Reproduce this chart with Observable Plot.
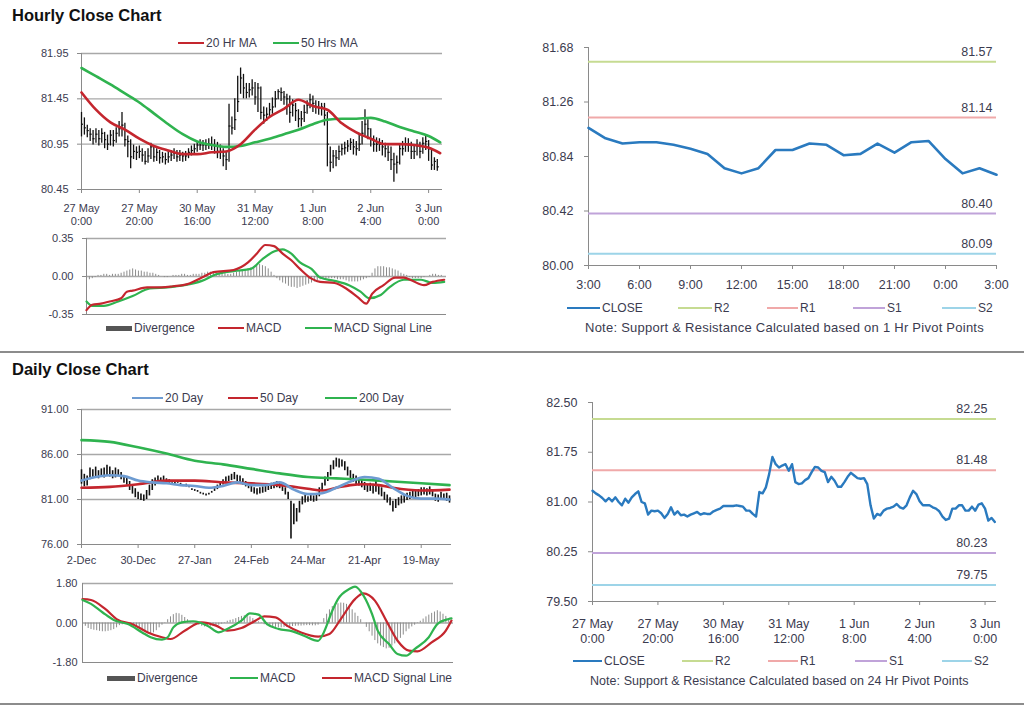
<!DOCTYPE html>
<html><head><meta charset="utf-8">
<script src="https://cdn.jsdelivr.net/npm/d3@7"></script>
<script src="https://cdn.jsdelivr.net/npm/@observablehq/plot@0.6"></script>
<style>
body{margin:0;width:1024px;height:706px;position:relative;background:#fff;font-family:"Liberation Sans",Arial,sans-serif;overflow:hidden}
.abs{position:absolute}
.title{position:absolute;font-weight:bold;font-size:16.5px;line-height:18px;color:#111;white-space:nowrap}
.leg{position:absolute;font-size:12px;color:#3b3b4f;white-space:nowrap;line-height:14px}
.sw{position:absolute}
.sep{position:absolute;left:0;width:1024px;height:2px;background:#8c8c8c}
</style></head><body>
<div class="title" style="left:12px;top:6px">Hourly Close Chart</div>
<div class="title" style="left:12px;top:360px">Daily Close Chart</div>
<div class="sep" style="top:351px"></div>
<div class="sep" style="top:703px"></div>
<script>
// ---------- Hourly (27 May 0:00 – 3 Jun 3:00) ----------
const hXLabels = ["27 May\n0:00","27 May\n20:00","30 May\n16:00","31 May\n12:00","1 Jun\n8:00","2 Jun\n4:00","3 Jun\n0:00"];
const hXTicks = [0,20,40,60,80,100,120];
const hYTicks = [80.45,80.95,81.45,81.95];
const hClose = [81.17,81.13,81.10,81.06,81.01,81.06,81.01,81.07,81.00,80.95,
81.05,80.99,81.07,81.12,81.16,81.00,80.98,80.81,80.87,80.86,
80.87,80.83,80.76,80.82,80.92,80.81,80.86,80.80,80.81,80.78,
80.81,80.83,80.85,80.81,80.83,80.82,80.82,80.86,80.88,80.90,
80.94,80.94,80.94,80.94,80.95,80.94,80.93,80.87,80.87,80.82,
80.78,81.15,81.13,81.22,81.42,81.68,81.57,81.52,81.55,81.57,
81.47,81.57,81.30,81.27,81.28,81.33,81.36,81.45,81.53,81.52,
81.47,81.45,81.30,81.38,81.32,81.23,81.23,81.30,81.38,81.44,
81.40,81.36,81.35,81.36,81.27,80.95,80.75,80.82,80.80,80.87,
80.90,80.91,80.93,80.97,80.92,80.90,80.95,81.07,81.17,81.12,
81.01,80.95,80.95,80.95,80.92,80.90,80.86,80.78,80.73,80.75,
80.90,80.90,80.95,80.95,80.87,80.87,80.93,80.87,80.96,80.98,
80.90,80.72,80.76,80.70];
const hHigh = [81.30,81.24,81.16,81.12,81.10,81.12,81.10,81.12,81.08,81.05,
81.10,81.10,81.13,81.20,81.30,81.18,81.04,81.00,80.94,80.92,
80.93,80.90,80.87,80.90,80.96,80.93,80.90,80.88,80.86,80.85,
80.87,80.88,80.90,80.88,80.88,80.86,80.87,80.90,80.93,80.95,
80.98,81.00,80.99,81.00,81.01,81.03,81.00,80.97,80.94,80.90,
80.86,81.39,81.25,81.45,81.70,81.79,81.72,81.62,81.62,81.66,
81.63,81.62,81.58,81.36,81.35,81.40,81.46,81.53,81.55,81.57,
81.53,81.50,81.48,81.44,81.40,81.33,81.31,81.38,81.43,81.50,
81.48,81.43,81.42,81.40,81.40,81.30,80.92,80.88,80.88,80.93,
80.95,80.97,80.99,81.01,81.00,80.98,81.06,81.20,81.33,81.22,
81.12,81.04,81.02,81.01,80.99,80.96,80.93,80.92,80.85,80.82,
80.95,80.98,81.02,81.01,80.97,80.94,81.00,80.97,81.02,81.05,
80.99,80.90,80.80,80.78];
const hLow = [81.03,81.05,81.02,80.98,80.94,80.96,80.93,80.96,80.90,80.88,
80.93,80.92,80.96,81.03,81.03,80.92,80.80,80.68,80.78,80.77,
80.79,80.75,80.72,80.74,80.78,80.75,80.76,80.73,80.74,80.72,
80.74,80.76,80.78,80.75,80.76,80.75,80.76,80.79,80.82,80.84,
80.86,80.88,80.87,80.88,80.89,80.88,80.84,80.79,80.78,80.70,
80.66,80.75,81.05,81.10,81.30,81.50,81.45,81.45,81.46,81.48,
81.38,81.30,81.22,81.17,81.20,81.25,81.28,81.35,81.44,81.42,
81.38,81.27,81.18,81.25,81.20,81.13,81.14,81.19,81.28,81.34,
81.30,81.28,81.27,81.26,81.15,80.70,80.64,80.68,80.70,80.77,
80.82,80.83,80.86,80.88,80.83,80.82,80.87,80.94,81.04,81.00,
80.92,80.86,80.86,80.87,80.82,80.80,80.76,80.66,80.53,80.62,
80.72,80.82,80.86,80.86,80.78,80.78,80.82,80.79,80.84,80.88,
80.76,80.66,80.66,80.65];
const hMaX = [0,5,10,15,20,25,30,35,40,45,50,55,60,65,70,75,80,85,90,95,100,105,110,115,120,124];
const hMa20 = [81.52,81.33,81.19,81.11,81.01,80.93,80.88,80.84,80.84,80.86,80.87,80.95,81.11,81.25,81.34,81.44,81.37,81.33,81.18,81.08,81.01,80.95,80.95,80.94,80.91,80.85];
const hMa50 = [81.79,81.70,81.61,81.51,81.41,81.29,81.17,81.06,80.98,80.94,80.92,80.93,80.97,81.01,81.06,81.11,81.17,81.22,81.23,81.23,81.24,81.20,81.14,81.09,81.04,80.97];
// Hourly MACD
const hMacdYTicks = [-0.35,0,0.35];
const hMacdX = [0,2,5,8,12,14,16,21,26,30,35,40,44,51,56,59,62,65,68,71,74,78,81,86,90,94,97,99,103,107,110,113,117,120,124];
const hMacd = [-0.31,-0.26,-0.25,-0.23,-0.20,-0.14,-0.13,-0.10,-0.10,-0.09,-0.07,-0.01,0.04,0.06,0.13,0.21,0.29,0.28,0.21,0.15,0.07,-0.02,-0.05,-0.06,-0.11,-0.19,-0.25,-0.16,-0.08,-0.01,-0.01,-0.04,-0.08,-0.05,-0.03];
const hSignalX = [0,2,6,11,16,22,28,34,40,45,51,57,61,65,68,71,74,78,81,86,91,95,98,102,105,110,116,120,124];
const hSignal = [-0.23,-0.27,-0.27,-0.23,-0.18,-0.11,-0.10,-0.08,-0.04,0.02,0.05,0.07,0.16,0.23,0.25,0.21,0.13,0.07,-0.01,-0.04,-0.08,-0.14,-0.20,-0.17,-0.10,-0.03,-0.03,-0.06,-0.05];
const hDiv = [-0.07,-0.03,-0.02,-0.01,0.01,0.01,0.02,0.02,0.01,0.02,
0.02,0.02,0.03,0.04,0.05,0.06,0.07,0.06,0.05,0.05,
0.04,0.04,0.03,0.03,0.02,0.01,0.00,-0.01,-0.01,0.00,
0.01,0.01,0.01,0.02,0.02,0.01,0.01,0.02,0.02,0.02,
0.03,0.03,0.04,0.04,0.04,0.03,0.03,0.03,0.03,0.02,
0.02,0.03,0.04,0.05,0.06,0.06,0.07,0.08,0.09,0.10,
0.11,0.10,0.09,0.07,0.04,0.01,-0.02,-0.04,-0.06,-0.07,
-0.09,-0.10,-0.10,-0.11,-0.10,-0.09,-0.08,-0.07,-0.06,-0.05,
-0.04,-0.03,-0.02,-0.02,-0.02,-0.02,-0.02,-0.03,-0.03,-0.03,
-0.04,-0.05,-0.05,-0.05,-0.05,-0.04,-0.03,-0.02,-0.01,0.03,
0.07,0.09,0.09,0.09,0.08,0.08,0.07,0.06,0.05,0.03,
0.02,0.01,-0.01,-0.02,-0.02,-0.02,-0.02,-0.01,0.00,0.01,
0.02,0.02,0.01,0.01];

// ---------- 1 Hr pivot panel (2 Jun 3:00 – 3 Jun 3:00) ----------
const pXLabels = ["3:00","6:00","9:00","12:00","15:00","18:00","21:00","0:00","3:00"];
const pXTicks = [0,3,6,9,12,15,18,21,24];
const pYTicks = [80.00,80.42,80.84,81.26,81.68];
const pClose = [81.06,80.98,80.94,80.95,80.95,80.93,80.90,80.86,80.75,80.71,80.75,80.89,80.89,80.94,80.93,80.85,80.86,80.94,80.87,80.95,80.96,80.82,80.71,80.75,80.70];
const pivotNames = ["R2","R1","S1","S2"];
const pivot1Hr = [81.57,81.14,80.40,80.09];

// ---------- Daily (2 Dec – early Jun) ----------
const dXLabels = ["2-Dec","30-Dec","27-Jan","24-Feb","24-Mar","21-Apr","19-May"];
const dXTicks = [0,20,40,60,80,100,120];
const dYTicks = [76,81,86,91];
const dHigh = [84.3,83.8,83.6,84.5,84.3,84.6,84.2,84.4,84.5,84.8,
84.6,84.2,84.5,84.3,84.0,83.6,83.4,83.0,82.6,82.2,
81.8,81.6,81.5,82.0,82.6,83.2,83.4,83.6,83.4,83.6,
83.3,83.2,83.0,82.9,82.9,82.8,82.6,82.7,82.5,82.2,
82.1,82.0,81.8,81.7,81.6,81.7,81.9,82.2,82.6,83.0,
83.2,83.5,83.6,83.8,84.0,83.7,83.6,83.3,83.0,82.8,
82.6,82.3,82.2,82.3,82.4,82.5,82.6,82.8,82.9,83.0,
82.9,82.6,82.3,81.8,80.8,80.5,80.0,80.8,81.3,81.5,
81.3,81.5,81.4,81.6,82.3,82.8,83.5,84.0,84.8,85.3,
85.6,85.5,85.4,85.2,84.6,84.2,83.8,83.6,83.4,83.2,
82.9,82.6,82.8,82.7,83.0,82.6,82.3,81.8,81.5,81.2,
80.8,81.0,81.2,81.4,81.5,81.7,81.8,81.9,82.0,82.1,
82.3,82.3,82.2,82.4,82.1,81.6,81.5,81.8,81.6,81.7,
81.4];
const dLow = [82.7,82.4,82.5,83.2,83.3,83.5,83.3,83.6,83.4,83.6,
83.5,83.3,83.4,83.6,83.2,82.8,82.6,82.0,81.6,81.2,
81.0,80.9,80.8,81.0,81.4,82.0,82.5,82.8,82.7,82.9,
82.8,82.8,82.8,82.7,82.8,82.6,82.5,82.4,82.3,82.0,
81.9,81.8,81.6,81.5,81.4,81.5,81.7,81.9,82.1,82.4,
82.6,82.8,83.0,83.1,83.2,83.0,82.9,82.6,82.4,82.2,
81.8,81.6,81.5,81.6,81.7,81.8,82.0,82.1,82.2,82.3,
82.2,81.9,81.5,81.0,76.6,78.2,78.5,79.5,80.4,80.6,
80.7,80.8,80.7,80.8,81.3,81.9,82.5,83.0,83.6,84.3,
84.6,84.5,84.6,84.2,83.6,83.2,82.9,82.6,82.5,82.3,
82.0,81.8,81.9,81.6,81.8,81.5,81.3,80.9,80.6,80.3,
79.6,80.0,80.3,80.5,80.6,80.9,81.0,81.1,81.2,81.3,
81.4,81.5,81.4,81.5,81.3,80.8,80.7,80.9,80.9,80.8,
80.6];
const d20X = [0,5,10,15,20,25,30,35,40,45,50,55,60,65,70,75,80,85,90,95,100,105,110,115,120,125,130];
const d20 = [83.1,83.5,83.7,83.6,83.1,82.9,82.8,82.6,82.5,82.3,82.5,82.9,82.6,82.6,82.9,82.1,81.6,81.7,82.3,83.0,83.5,83.3,82.3,81.4,81.1,81.1,81.0];
const d50X = [0,10,20,30,40,50,60,70,80,85,90,95,100,105,110,120,130];
const d50 = [82.3,82.4,82.7,83.1,83.1,82.9,82.8,82.6,82.2,82.0,82.3,82.6,82.7,82.6,82.3,82.0,82.1];
const d200X = [0,10,20,30,40,50,60,70,80,90,100,110,120,130];
const d200 = [87.6,87.4,86.8,86.1,85.3,84.9,84.4,83.9,83.5,83.35,83.2,83.0,82.8,82.6];
// Daily MACD
const dMacdYTicks = [-1.8,0,1.8];
const dMacdX = [0,3,7,11,16,21,24,28,30,32,35,39,44,48,51,56,59,62,65,69,74,78,83,85,88,90,94,96,99,102,104,108,111,114,117,122,125,129,130];
const dMacd = [1.05,0.87,0.49,0.14,-0.05,-0.43,-0.65,-0.76,-0.65,-0.20,0.03,0.08,-0.12,-0.43,-0.27,0.11,0.44,0.38,-0.05,-0.27,-0.38,-0.58,-0.81,-0.43,0.56,1.09,1.55,1.66,1.25,0.41,-0.35,-0.96,-1.41,-1.49,-1.19,-0.65,-0.05,0.18,0.21];
const dSignalX = [0,3,8,12,18,23,28,31,36,42,47,51,56,61,64,68,72,77,83,87,91,96,99,103,107,111,115,118,123,128,130];
const dSignal = [1.09,1.05,0.64,0.18,-0.08,-0.43,-0.65,-0.73,-0.35,0.03,-0.12,-0.35,-0.23,0.11,0.30,0.26,-0.12,-0.43,-0.62,-0.50,0.18,1.09,1.35,1.02,0.11,-0.81,-1.26,-1.29,-0.88,-0.35,0.11];
const dDiv = [0.00,-0.15,-0.25,-0.30,-0.33,-0.35,-0.38,-0.40,-0.40,-0.38,
-0.35,-0.30,-0.22,-0.12,-0.08,-0.05,-0.05,-0.08,-0.12,-0.18,
-0.25,-0.32,-0.40,-0.45,-0.48,-0.45,-0.35,-0.22,-0.10,0.02,
0.15,0.28,0.38,0.44,0.42,0.35,0.25,0.15,0.05,0.00,
-0.05,-0.10,-0.15,-0.18,-0.20,-0.18,-0.15,-0.12,-0.10,-0.05,
0.02,0.08,0.12,0.15,0.20,0.25,0.30,0.33,0.33,0.28,
0.20,0.10,0.05,-0.02,-0.08,-0.12,-0.15,-0.18,-0.20,-0.22,
-0.22,-0.20,-0.20,-0.18,-0.16,-0.15,-0.14,-0.14,-0.13,-0.12,
-0.12,-0.13,-0.13,-0.10,0.00,0.20,0.40,0.60,0.75,0.85,
0.88,0.91,0.90,0.85,0.75,0.60,0.45,0.30,0.15,0.00,
-0.20,-0.40,-0.60,-0.80,-0.95,-1.05,-1.12,-1.18,-1.15,-1.05,
-0.95,-0.85,-0.70,-0.55,-0.40,-0.28,-0.18,-0.10,-0.02,0.08,
0.18,0.28,0.36,0.44,0.50,0.56,0.50,0.40,0.30,0.20,
0.12];

// ---------- 24 Hr pivot panel (hourly closes) ----------
const qYTicks = [79.50,80.25,81.00,81.75,82.50];
const pivot24Hr = [82.25,81.48,80.23,79.75];

// ---------- styles ----------
const FONT = "'Liberation Sans', Arial, sans-serif";
const TXT = "#3b3b4f";
const AX = "#8a8a8a";
const GRID = "#a8a8a8";
const RED = "#c4262e", GREEN = "#2fb34f", BLUE20 = "#6d9bd1", DIVC = "#8c8c8c";
const CLOSEC = "#2a7abf";
const PIVC = ["#c6db92","#f0a9a9","#c0a3d9","#9dd4e8"];

function place(svg, left, top) {
  const d = document.createElement("div");
  d.className = "abs"; d.style.left = left + "px"; d.style.top = top + "px";
  d.appendChild(svg); document.body.appendChild(d);
}
function legend(items) {
  for (const it of items) {
    const s = document.createElement("div");
    s.className = "sw";
    s.style.cssText = `left:${it.x}px;top:${it.y - it.h/2}px;width:${it.w}px;height:${it.h}px;background:${it.c}`;
    document.body.appendChild(s);
    const t = document.createElement("div");
    t.className = "leg"; t.style.left = (it.x + it.w + 2) + "px"; t.style.top = (it.y - 7) + "px";
    t.textContent = it.t; document.body.appendChild(t);
  }
}
function note(text, left, y, fs, ls) {
  const t = document.createElement("div");
  t.className = "leg"; t.style.left = left + "px"; t.style.top = (y - 7) + "px";
  t.style.fontSize = fs + "px"; t.style.letterSpacing = ls + "px";
  t.textContent = text; document.body.appendChild(t);
}
const mapOf = (keys, vals) => new Map(keys.map((k, i) => [k, vals[i]]));
const pairs = (xs, ys) => xs.map((x, i) => ({x, y: ys[i]}));
const baseStyle = (fs) => ({fontFamily: FONT, fontSize: fs, color: TXT, background: "transparent", overflow: "visible"});

// ===== Panel 1: hourly price bars =====
const hBars = hClose.map((c, i) => ({i, c, h: hHigh[i], l: hLow[i]}));
const hxMap = mapOf(hXTicks, hXLabels);
place(Plot.plot({
  width: 460, height: 200, marginLeft: 81, marginRight: 18, marginTop: 23, marginBottom: 41,
  style: baseStyle("11px"),
  x: {domain: [0, 124.8]}, y: {domain: [80.45, 81.95]},
  marks: [
    Plot.ruleY(hYTicks.slice(1), {stroke: GRID, strokeWidth: 1.3}),
    Plot.ruleY([hYTicks[0]], {stroke: AX}),
    Plot.ruleX([0], {stroke: AX}),
    Plot.ruleX(hBars, {x: "i", y1: "l", y2: "h", stroke: "#111", strokeWidth: 1.3}),
    Plot.ruleY(hBars, {y: "c", x1: "i", x2: d => d.i + 0.7, stroke: "#111", strokeWidth: 1.2}),
    Plot.line(pairs(hMaX, hMa50), {x: "x", y: "y", stroke: GREEN, strokeWidth: 2.6, curve: "monotone-x"}),
    Plot.line(pairs(hMaX, hMa20), {x: "x", y: "y", stroke: RED, strokeWidth: 2.6, curve: "monotone-x"}),
    Plot.axisY({ticks: hYTicks, tickSize: 4, tickPadding: 9, tickFormat: d => d.toFixed(2), label: null, stroke: AX, fill: TXT}),
    Plot.axisX({ticks: hXTicks, tickSize: 4, tickPadding: 9, tickFormat: d => hxMap.get(d), label: null, stroke: AX, fill: TXT, lineHeight: 1.18})
  ]
}), 0, 30);
legend([
  {x: 178, y: 43, w: 26, h: 2.5, c: RED, t: "20 Hr MA"},
  {x: 273, y: 43, w: 26, h: 2.5, c: GREEN, t: "50 Hrs MA"}
]);

// ===== Panel 2: hourly MACD =====
const hDivBars = hDiv.map((v, i) => ({i, v}));
place(Plot.plot({
  width: 460, height: 95, marginLeft: 86, marginRight: 14, marginTop: 10, marginBottom: 9,
  style: baseStyle("11px"),
  x: {domain: [0, 124.8], axis: null}, y: {domain: [-0.35, 0.35]},
  marks: [
    Plot.ruleY([0.35, 0], {stroke: GRID, strokeWidth: 1.3}),
    Plot.ruleY([-0.35], {stroke: AX}),
    Plot.ruleX([0], {stroke: AX}),
    Plot.ruleX(hDivBars, {x: "i", y1: 0, y2: "v", stroke: DIVC, strokeWidth: 1}),
    Plot.line(pairs(hSignalX, hSignal), {x: "x", y: "y", stroke: GREEN, strokeWidth: 2.2, curve: "monotone-x"}),
    Plot.line(pairs(hMacdX, hMacd), {x: "x", y: "y", stroke: RED, strokeWidth: 2.2, curve: "monotone-x"}),
    Plot.axisY({ticks: hMacdYTicks, tickSize: 4, tickPadding: 9, tickFormat: d => d.toFixed(2), label: null, stroke: AX, fill: TXT})
  ]
}), 0, 228);
legend([
  {x: 106, y: 328, w: 26, h: 5, c: "#555", t: "Divergence"},
  {x: 218, y: 328, w: 26, h: 2.5, c: RED, t: "MACD"},
  {x: 305, y: 328, w: 27, h: 2.5, c: GREEN, t: "MACD Signal Line"}
]);

// ===== Panel 3: 1 Hr pivots =====
const pxMap = mapOf(pXTicks, pXLabels);
place(Plot.plot({
  width: 504, height: 260, marginLeft: 68, marginRight: 28, marginTop: 17, marginBottom: 25,
  style: baseStyle("12px"),
  x: {domain: [0, 24]}, y: {domain: [80.00, 81.68]},
  marks: [
    Plot.ruleX([0], {stroke: AX}),
    Plot.ruleY([80], {stroke: AX}),
    ...pivot1Hr.map((v, k) => Plot.ruleY([v], {stroke: PIVC[k], strokeWidth: 2})),
    Plot.text(pivot1Hr, {x: 24, y: d => d, text: d => d.toFixed(2), dy: -10, dx: -4, textAnchor: "end", fill: TXT, fontSize: 12.5}),
    Plot.line(pClose.map((v, i) => ({i, v})), {x: "i", y: "v", stroke: CLOSEC, strokeWidth: 2.6}),
    Plot.axisY({ticks: pYTicks, tickSize: 4, tickPadding: 11, tickFormat: d => d.toFixed(2), label: null, stroke: AX, fill: TXT, fontSize: 12.5}),
    Plot.axisX({ticks: pXTicks, tickSize: 4, tickPadding: 11, tickFormat: d => pxMap.get(d), label: null, stroke: AX, fill: TXT, fontSize: 12.5})
  ]
}), 520, 30);
legend([
  {x: 567, y: 308, w: 33, h: 2, c: CLOSEC, t: "CLOSE"},
  {x: 678, y: 308, w: 34, h: 2, c: PIVC[0], t: pivotNames[0]},
  {x: 767, y: 308, w: 31, h: 2, c: PIVC[1], t: pivotNames[1]},
  {x: 853, y: 308, w: 32, h: 2, c: PIVC[2], t: pivotNames[2]},
  {x: 942, y: 308, w: 34, h: 2, c: PIVC[3], t: pivotNames[3]}
]);
note("Note: Support & Resistance Calculated based on 1 Hr Pivot Points", 585, 328, 13, 0.25);

// ===== Panel 4: daily price bars =====
const dBars = dHigh.map((h, i) => ({i, h, l: dLow[i]}));
const dxMap = mapOf(dXTicks, dXLabels);
place(Plot.plot({
  width: 470, height: 170, marginLeft: 81, marginRight: 19, marginTop: 9, marginBottom: 26,
  style: baseStyle("11px"),
  x: {domain: [0, 130.7]}, y: {domain: [76, 91]},
  marks: [
    Plot.ruleY(dYTicks.slice(1), {stroke: GRID, strokeWidth: 1.3}),
    Plot.ruleY([76], {stroke: AX}),
    Plot.ruleX([0], {stroke: AX}),
    Plot.ruleX(dBars, {x: "i", y1: "l", y2: "h", stroke: "#111", strokeWidth: 1.6}),
    Plot.line(pairs(d200X, d200), {x: "x", y: "y", stroke: GREEN, strokeWidth: 2.6, curve: "monotone-x"}),
    Plot.line(pairs(d50X, d50), {x: "x", y: "y", stroke: RED, strokeWidth: 2.6, curve: "monotone-x"}),
    Plot.line(pairs(d20X, d20), {x: "x", y: "y", stroke: BLUE20, strokeWidth: 2.6, curve: "monotone-x"}),
    Plot.axisY({ticks: dYTicks, tickSize: 4, tickPadding: 9, tickFormat: d => d.toFixed(2), label: null, stroke: AX, fill: TXT}),
    Plot.axisX({ticks: dXTicks, tickSize: 4, tickPadding: 8, tickFormat: d => dxMap.get(d), label: null, stroke: AX, fill: TXT})
  ]
}), 0, 400);
legend([
  {x: 132, y: 398, w: 31, h: 2.5, c: BLUE20, t: "20 Day"},
  {x: 228, y: 398, w: 30, h: 2.5, c: RED, t: "50 Day"},
  {x: 325, y: 398, w: 32, h: 2.5, c: GREEN, t: "200 Day"}
]);

// ===== Panel 5: daily MACD =====
const dDivBars = dDiv.map((v, i) => ({i, v}));
place(Plot.plot({
  width: 470, height: 95, marginLeft: 82, marginRight: 17, marginTop: 10, marginBottom: 6,
  style: baseStyle("11px"),
  x: {domain: [0, 130.7], axis: null}, y: {domain: [-1.8, 1.8]},
  marks: [
    Plot.ruleY([1.8, 0], {stroke: GRID, strokeWidth: 1.3}),
    Plot.ruleY([-1.8], {stroke: AX}),
    Plot.ruleX([0], {stroke: AX}),
    Plot.ruleX(dDivBars, {x: "i", y1: 0, y2: "v", stroke: DIVC, strokeWidth: 1}),
    Plot.line(pairs(dSignalX, dSignal), {x: "x", y: "y", stroke: RED, strokeWidth: 2.2, curve: "monotone-x"}),
    Plot.line(pairs(dMacdX, dMacd), {x: "x", y: "y", stroke: GREEN, strokeWidth: 2.2, curve: "monotone-x"}),
    Plot.axisY({ticks: dMacdYTicks, tickSize: 0, tickPadding: 5, tickFormat: d => d.toFixed(2), label: null, stroke: AX, fill: TXT})
  ]
}), 0, 573);
legend([
  {x: 107, y: 678, w: 28, h: 5, c: "#555", t: "Divergence"},
  {x: 230, y: 678, w: 28, h: 2.5, c: GREEN, t: "MACD"},
  {x: 322, y: 678, w: 30, h: 2.5, c: RED, t: "MACD Signal Line"}
]);

// ===== Panel 6: 24 Hr pivots with hourly close =====
place(Plot.plot({
  width: 504, height: 260, marginLeft: 72, marginRight: 28, marginTop: 12, marginBottom: 49,
  style: baseStyle("12px"),
  x: {domain: [0, 123.5]}, y: {domain: [79.5, 82.5]},
  marks: [
    Plot.ruleX([0], {stroke: AX}),
    Plot.ruleY([79.5], {stroke: AX}),
    ...pivot24Hr.map((v, k) => Plot.ruleY([v], {stroke: PIVC[k], strokeWidth: 2})),
    Plot.text(pivot24Hr, {x: 123.5, y: d => d, text: d => d.toFixed(2), dy: -10, dx: -9, textAnchor: "end", fill: TXT, fontSize: 12.5}),
    Plot.line(hClose.map((v, i) => ({i, v})), {x: "i", y: "v", stroke: CLOSEC, strokeWidth: 2.4}),
    Plot.axisY({ticks: qYTicks, tickSize: 4, tickPadding: 11, tickFormat: d => d.toFixed(2), label: null, stroke: AX, fill: TXT, fontSize: 12.5}),
    Plot.axisX({ticks: hXTicks, tickSize: 4, tickPadding: 11, tickFormat: d => hxMap.get(d), label: null, stroke: AX, fill: TXT, fontSize: 12.5, lineHeight: 1.25})
  ]
}), 520, 390);
legend([
  {x: 573, y: 661, w: 29, h: 2, c: CLOSEC, t: "CLOSE"},
  {x: 682, y: 661, w: 31, h: 2, c: PIVC[0], t: pivotNames[0]},
  {x: 768, y: 661, w: 30, h: 2, c: PIVC[1], t: pivotNames[1]},
  {x: 855, y: 661, w: 32, h: 2, c: PIVC[2], t: pivotNames[2]},
  {x: 942, y: 661, w: 30, h: 2, c: PIVC[3], t: pivotNames[3]}
]);
note("Note: Support & Resistance Calculated based on 24 Hr Pivot Points", 590, 681, 12.5, 0.05);
</script>
</body></html>
